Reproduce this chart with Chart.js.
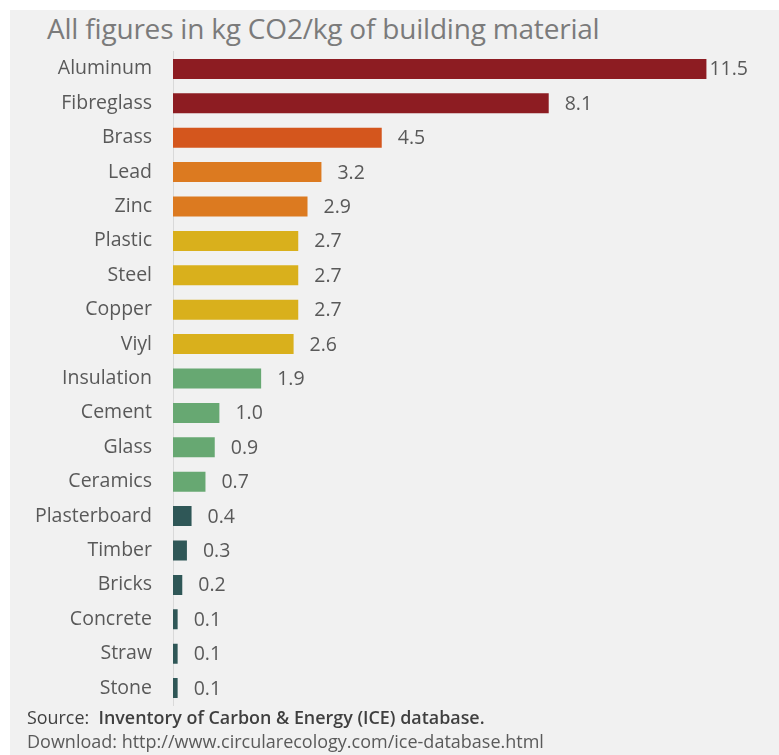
<!DOCTYPE html>
<html>
<head>
<meta charset="utf-8">
<script src="https://cdn.jsdelivr.net/npm/chart.js@4.4.1/dist/chart.umd.min.js"></script>
<style>
  html, body { margin: 0; padding: 0; background: #fff; }
  body { width: 779px; height: 755px; position: relative; overflow: hidden; font-family: "Open Sans", sans-serif; }
  .panel { position: absolute; left: 10px; top: 10px; width: 769px; height: 745px; background: #f1f1f1; }
  .title { position: absolute; left: 37px; top: -1px; font-size: 28px; color: #7b7b7b; white-space: nowrap; letter-spacing: -0.2px; }
  .chart-box { position: absolute; left: 0; top: 9px; width: 769px; height: 719px; }
  .source { position: absolute; left: 17px; top: 695px; font-size: 17.9px; color: #3f3f3f; white-space: nowrap; }
  .source b { font-weight: 600; }
  .download { position: absolute; left: 17px; top: 719px; font-size: 18px; color: #5a5a5a; white-space: nowrap; }
</style>
</head>
<body>
<div class="panel">
  <div class="title">All figures in kg CO2/kg of building material</div>
  <div class="chart-box"><canvas id="myChart"></canvas></div>
  <div class="source">Source:&nbsp; <b>Inventory of Carbon &amp; Energy (ICE) database.</b></div>
  <div class="download">Download: http://www.circularecology.com/ice-database.html</div>
</div>
<script>
const materials = ["Aluminum", "Fibreglass", "Brass", "Lead", "Zinc", "Plastic", "Steel", "Copper", "Viyl",
  "Insulation", "Cement", "Glass", "Ceramics", "Plasterboard", "Timber", "Bricks", "Concrete", "Straw", "Stone"];
const co2Values = [11.5, 8.1, 4.5, 3.2, 2.9, 2.7, 2.7, 2.7, 2.6, 1.9, 1.0, 0.9, 0.7, 0.4, 0.3, 0.2, 0.1, 0.1, 0.1];
const valueLabels = ["11.5", "8.1", "4.5", "3.2", "2.9", "2.7", "2.7", "2.7", "2.6", "1.9", "1.0", "0.9", "0.7", "0.4", "0.3", "0.2", "0.1", "0.1", "0.1"];

// colour groups, top to bottom
const barColors = [
  "#8d1c22", "#8d1c22",
  "#d4561d",
  "#dc7a20", "#dc7a20",
  "#d9b01c", "#d9b01c", "#d9b01c", "#d9b01c",
  "#67a872", "#67a872", "#67a872", "#67a872",
  "#2f5757", "#2f5757", "#2f5757", "#2f5757", "#2f5757", "#2f5757"
];

// draws the number to the right of each bar
const valueLabelPlugin = {
  id: "valueLabels",
  afterDatasetsDraw(chart) {
    const ctx = chart.ctx;
    const meta = chart.getDatasetMeta(0);
    ctx.save();
    ctx.font = "19.5px 'Open Sans'";
    ctx.fillStyle = "#595959";
    ctx.textBaseline = "middle";
    meta.data.forEach((bar, i) => {
      const text = valueLabels[i];
      const w = ctx.measureText(text).width;
      let x = bar.x + 16;
      // no room at the right edge: tuck it against the bar
      if (x + w > chart.width - 20) x = bar.x + 3;
      ctx.fillText(text, x, bar.y + 1);
    });
    ctx.restore();
  },
};

const ctx = document.getElementById("myChart");

new Chart(ctx, {
  type: "bar",
  data: {
    labels: materials,
    datasets: [
      {
        data: co2Values,
        backgroundColor: barColors,
        borderWidth: 0,
        barPercentage: 0.58,
        categoryPercentage: 1,
      },
    ],
  },
  options: {
    indexAxis: "y",
    responsive: true,
    maintainAspectRatio: false,
    animation: false,
    layout: {
      padding: { top: 10, bottom: 15, left: 0, right: 3 },
    },
    plugins: {
      legend: { display: false },
      tooltip: { enabled: false },
    },
    scales: {
      x: {
        display: false,
        min: 0,
        max: 13,
      },
      y: {
        afterFit(scale) {
          scale.width = 163;
        },
        grid: { display: false, drawTicks: false },
        border: { display: true, color: "#d9d9d9", width: 1 },
        ticks: {
          padding: 21,
          color: "#595959",
          font: { family: "'Open Sans'", size: 19.5 },
        },
      },
    },
  },
  plugins: [valueLabelPlugin],
});
</script>
</body>
</html>
